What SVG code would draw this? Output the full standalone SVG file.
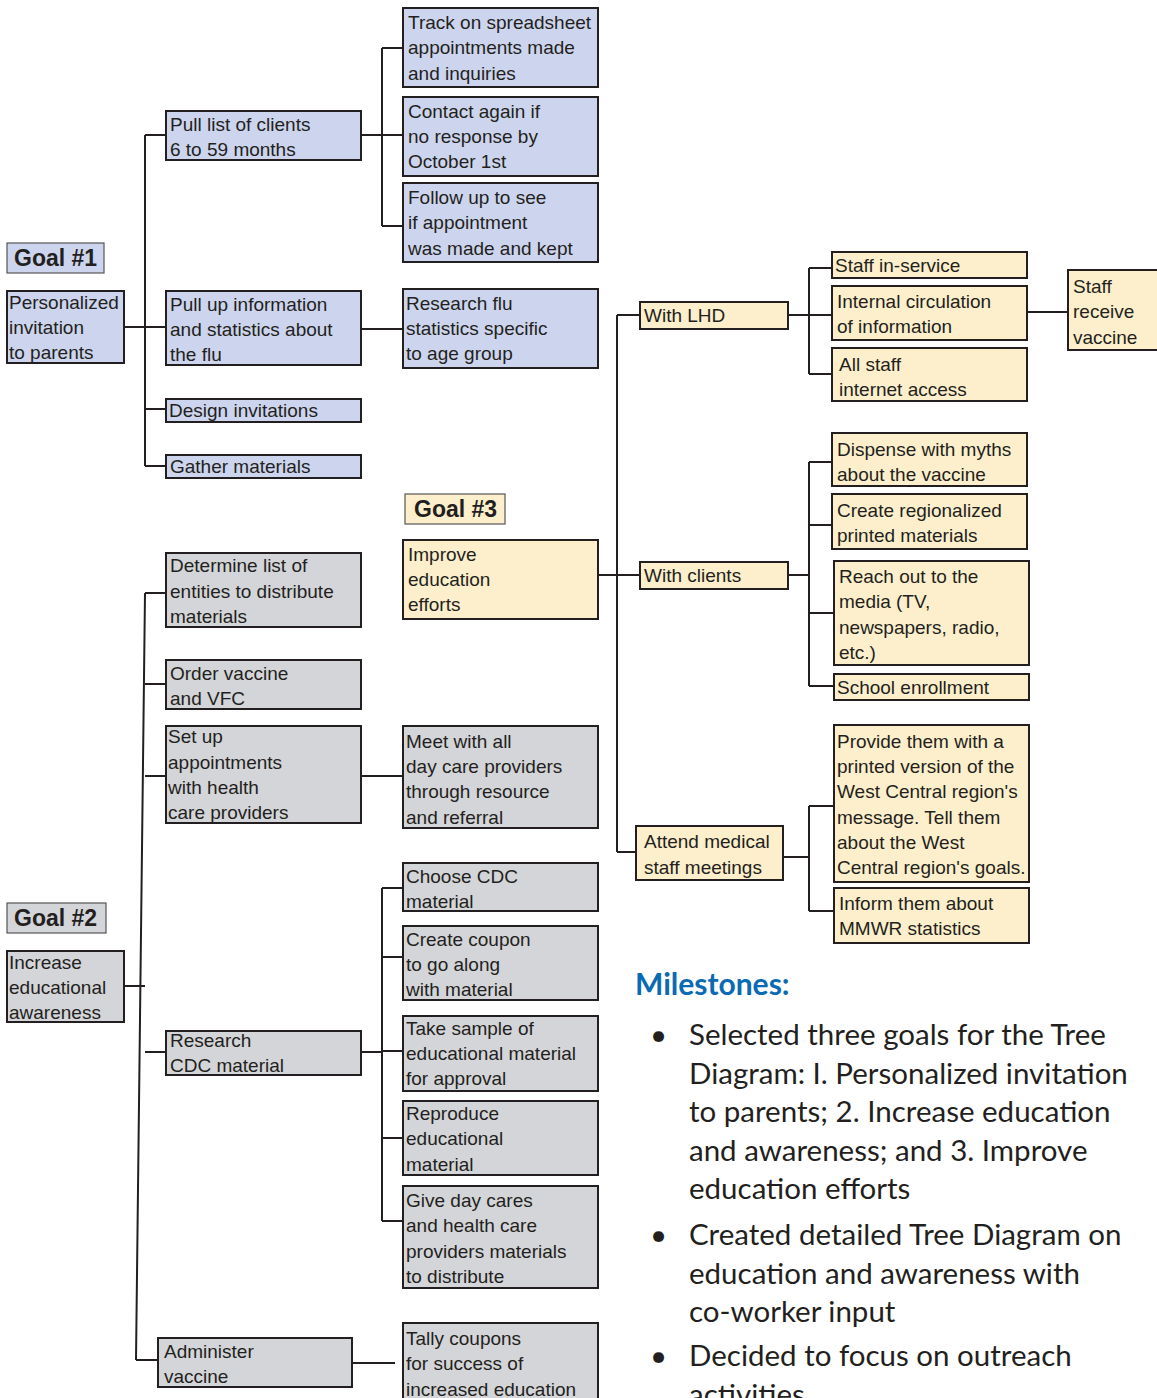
<svg xmlns="http://www.w3.org/2000/svg" width="1157" height="1398" viewBox="0 0 1157 1398">
<style>
rect{stroke:#231f20;stroke-width:2}
.b{fill:#cdd5ee}
.g{fill:#d4d5d8}
.y{fill:#fdefcb}
.lb{stroke-width:1.2;stroke:#555}
text{font-family:"Liberation Sans",Arial,sans-serif;font-size:19px;fill:#231f20}
.goal{font-weight:bold;font-size:23px}
.ms{font-family:Lato,"Open Sans",sans-serif;font-weight:bold;font-size:30px;fill:#0a6ab4}
.bl{font-family:Lato,"Open Sans",sans-serif;font-size:29.5px;fill:#231f20}
#conn path{fill:none;stroke:#231f20;stroke-width:2}
</style>
<g id="conn">
<path d="M124 327H166M145 135V466M145 135H166M145 409H166M145 466H166"/>
<path d="M361 135H382M382 48V226M382 48H403M382 135H403M382 226H403"/>
<path d="M361 329H403"/>
<path d="M598 575H640M617 315V852M617 315H640M617 852H636"/>
<path d="M788 315H809M809 268V374M809 268H832M809 315H832M809 374H832"/>
<path d="M1027 312H1068"/>
<path d="M788 575H809M809 462V686M809 462H832M809 525H832M809 613H834M809 686H834"/>
<path d="M783 857H809M809 806V911M809 806H834M809 911H834"/>
<path d="M124 986H145M145 593L136 1360M145 593H166M145 684H166M145 776H166M145 1052H166M136 1360H158"/>
<path d="M361 776H403"/>
<path d="M361 1052H382M382 888V1221M382 888H403M382 957H403M382 1051H403M382 1138H403M382 1221H403"/>
<path d="M352 1363H395"/>
</g>
<g id="goal1"><rect class="b lb" x="7" y="243" width="97" height="30"/><text class="goal" x="14" y="266">Goal #1</text></g>
<g id="personalized"><rect class="b" x="7" y="291" width="117" height="72"/><text x="9" y="309">Personalized<tspan x="9" dy="25">invitation</tspan><tspan x="9" dy="25">to parents</tspan></text></g>
<g id="pulllist"><rect class="b" x="166" y="111" width="195" height="49"/><text x="170" y="131">Pull list of clients<tspan x="170" dy="25">6 to 59 months</tspan></text></g>
<g id="pullup"><rect class="b" x="166" y="291" width="195" height="74"/><text x="170" y="311">Pull up information<tspan x="170" dy="25">and statistics about</tspan><tspan x="170" dy="25">the flu</tspan></text></g>
<g id="design"><rect class="b" x="166" y="399" width="195" height="23"/><text x="169" y="417">Design invitations</text></g>
<g id="gather"><rect class="b" x="166" y="455" width="195" height="23"/><text x="170" y="473">Gather materials</text></g>
<g id="track"><rect class="b" x="403" y="8" width="195" height="79"/><text x="408" y="29">Track on spreadsheet<tspan x="408" dy="25">appointments made</tspan><tspan x="408" dy="26">and inquiries</tspan></text></g>
<g id="contact"><rect class="b" x="403" y="97" width="195" height="79"/><text x="408" y="118">Contact again if<tspan x="408" dy="25">no response by</tspan><tspan x="408" dy="25">October 1st</tspan></text></g>
<g id="followup"><rect class="b" x="403" y="183" width="195" height="79"/><text x="408" y="204">Follow up to see<tspan x="408" dy="25">if appointment</tspan><tspan x="408" dy="26">was made and kept</tspan></text></g>
<g id="researchflu"><rect class="b" x="403" y="289" width="195" height="79"/><text x="406" y="310">Research flu<tspan x="406" dy="25">statistics specific</tspan><tspan x="406" dy="25">to age group</tspan></text></g>
<g id="goal3"><rect class="y lb" x="405" y="494" width="100" height="30"/><text class="goal" x="414" y="517">Goal #3</text></g>
<g id="improve"><rect class="y" x="403" y="540" width="195" height="79"/><text x="408" y="561">Improve<tspan x="408" dy="25">education</tspan><tspan x="408" dy="25">efforts</tspan></text></g>
<g id="withlhd"><rect class="y" x="640" y="302" width="148" height="27"/><text x="644" y="322">With LHD</text></g>
<g id="withclients"><rect class="y" x="640" y="562" width="148" height="27"/><text x="644" y="582">With clients</text></g>
<g id="attend"><rect class="y" x="636" y="826" width="147" height="54"/><text x="644" y="848">Attend medical<tspan x="644" dy="26">staff meetings</tspan></text></g>
<g id="inservice"><rect class="y" x="832" y="252" width="195" height="26"/><text x="835" y="272">Staff in-service</text></g>
<g id="internal"><rect class="y" x="832" y="286" width="195" height="54"/><text x="837" y="308">Internal circulation<tspan x="837" dy="25">of information</tspan></text></g>
<g id="allstaff"><rect class="y" x="832" y="348" width="195" height="53"/><text x="839" y="371">All staff<tspan x="839" dy="25">internet access</tspan></text></g>
<g id="staffreceive"><rect class="y" x="1068" y="270" width="95" height="80"/><text x="1073" y="293">Staff<tspan x="1073" dy="25">receive</tspan><tspan x="1073" dy="26">vaccine</tspan></text></g>
<g id="dispense"><rect class="y" x="832" y="433" width="195" height="53"/><text x="837" y="456">Dispense with myths<tspan x="837" dy="25">about the vaccine</tspan></text></g>
<g id="regional"><rect class="y" x="832" y="494" width="195" height="55"/><text x="837" y="517">Create regionalized<tspan x="837" dy="25">printed materials</tspan></text></g>
<g id="reach"><rect class="y" x="834" y="561" width="195" height="104"/><text x="839" y="583">Reach out to the<tspan x="839" dy="25">media (TV,</tspan><tspan x="839" dy="26">newspapers, radio,</tspan><tspan x="839" dy="25">etc.)</tspan></text></g>
<g id="school"><rect class="y" x="834" y="674" width="195" height="26"/><text x="837" y="694">School enrollment</text></g>
<g id="provide"><rect class="y" x="834" y="725" width="195" height="157"/><text x="837" y="748">Provide them with a<tspan x="837" dy="25">printed version of the</tspan><tspan x="837" dy="25">West Central region's</tspan><tspan x="837" dy="26">message. Tell them</tspan><tspan x="837" dy="25">about the West</tspan><tspan x="837" dy="25">Central region's goals.</tspan></text></g>
<g id="inform"><rect class="y" x="834" y="888" width="195" height="55"/><text x="839" y="910">Inform them about<tspan x="839" dy="25">MMWR statistics</tspan></text></g>
<g id="goal2"><rect class="g lb" x="7" y="903" width="99" height="30"/><text class="goal" x="14" y="926">Goal #2</text></g>
<g id="increase"><rect class="g" x="7" y="951" width="117" height="71"/><text x="9" y="969">Increase<tspan x="9" dy="25">educational</tspan><tspan x="9" dy="25">awareness</tspan></text></g>
<g id="determine"><rect class="g" x="166" y="553" width="195" height="74"/><text x="170" y="572">Determine list of<tspan x="170" dy="26">entities to distribute</tspan><tspan x="170" dy="25">materials</tspan></text></g>
<g id="order"><rect class="g" x="166" y="660" width="195" height="49"/><text x="170" y="680">Order vaccine<tspan x="170" dy="25">and VFC</tspan></text></g>
<g id="setup"><rect class="g" x="166" y="726" width="195" height="97"/><text x="168" y="743">Set up<tspan x="168" dy="26">appointments</tspan><tspan x="168" dy="25">with health</tspan><tspan x="168" dy="25">care providers</tspan></text></g>
<g id="meet"><rect class="g" x="403" y="726" width="195" height="102"/><text x="406" y="748">Meet with all<tspan x="406" dy="25">day care providers</tspan><tspan x="406" dy="25">through resource</tspan><tspan x="406" dy="26">and referral</tspan></text></g>
<g id="researchcdc"><rect class="g" x="166" y="1031" width="195" height="44"/><text x="170" y="1047">Research<tspan x="170" dy="25">CDC material</tspan></text></g>
<g id="choose"><rect class="g" x="403" y="863" width="195" height="48"/><text x="406" y="883">Choose CDC<tspan x="406" dy="25">material</tspan></text></g>
<g id="coupon"><rect class="g" x="403" y="926" width="195" height="74"/><text x="406" y="946">Create coupon<tspan x="406" dy="25">to go along</tspan><tspan x="406" dy="25">with material</tspan></text></g>
<g id="sample"><rect class="g" x="403" y="1016" width="195" height="75"/><text x="406" y="1035">Take sample of<tspan x="406" dy="25">educational material</tspan><tspan x="406" dy="25">for approval</tspan></text></g>
<g id="reproduce"><rect class="g" x="403" y="1101" width="195" height="74"/><text x="406" y="1120">Reproduce<tspan x="406" dy="25">educational</tspan><tspan x="406" dy="26">material</tspan></text></g>
<g id="giveday"><rect class="g" x="403" y="1186" width="195" height="102"/><text x="406" y="1207">Give day cares<tspan x="406" dy="25">and health care</tspan><tspan x="406" dy="26">providers materials</tspan><tspan x="406" dy="25">to distribute</tspan></text></g>
<g id="administer"><rect class="g" x="158" y="1338" width="194" height="49"/><text x="164" y="1358">Administer<tspan x="164" dy="25">vaccine</tspan></text></g>
<g id="tally"><rect class="g" x="403" y="1323" width="195" height="90"/><text x="406" y="1345">Tally coupons<tspan x="406" dy="25">for success of</tspan><tspan x="406" dy="26">increased education</tspan></text></g>
<g id="milestones">
<text class="ms" x="635" y="995">Milestones:</text>
<text class="bl" x="650" y="1045">•</text>
<text class="bl" x="689" y="1045">Selected three goals for the Tree<tspan x="689" dy="38.5">Diagram: I. Personalized invitation</tspan><tspan x="689" dy="38.5">to parents; 2. Increase education</tspan><tspan x="689" dy="38.5">and awareness; and 3. Improve</tspan><tspan x="689" dy="38.5">education efforts</tspan></text>
<text class="bl" x="650" y="1245">•</text>
<text class="bl" x="689" y="1245">Created detailed Tree Diagram on<tspan x="689" dy="38.5">education and awareness with</tspan><tspan x="689" dy="38.5">co-worker input</tspan></text>
<text class="bl" x="650" y="1366">•</text>
<text class="bl" x="689" y="1366">Decided to focus on outreach<tspan x="689" dy="38.5">activities</tspan></text>
</g>
</svg>
